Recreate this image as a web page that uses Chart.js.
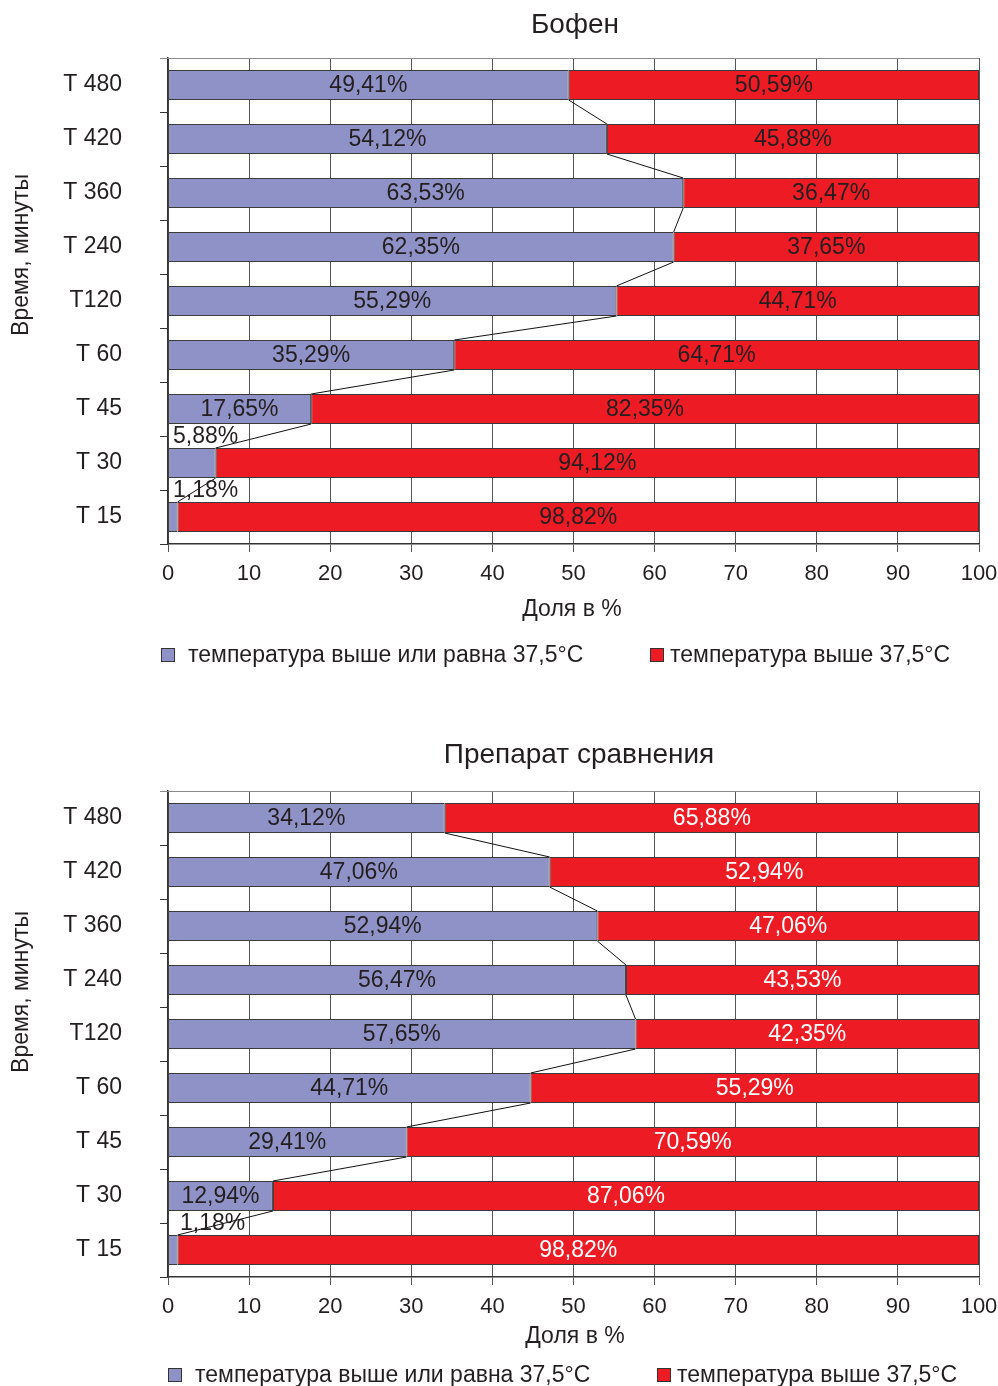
<!DOCTYPE html>
<html>
<head>
<meta charset="utf-8">
<script src="https://cdn.jsdelivr.net/npm/chart.js@4.4.1/dist/chart.umd.min.js"></script>
<style>
  html, body { margin: 0; padding: 0; background: #fff; }
  #wrap { position: relative; width: 998px; height: 1386px; }
  canvas { position: absolute; left: 0; }
  #chartTop { top: 0; }
  #chartBottom { top: 720px; }
</style>
</head>
<body>
<div id="wrap">
  <canvas id="chartTop" width="998" height="700"></canvas>
  <canvas id="chartBottom" width="998" height="666"></canvas>
</div>
<script>
// time points, top to bottom
const timeLabels = ['T 480', 'T 420', 'T 360', 'T 240', 'T120', 'T 60', 'T 45', 'T 30', 'T 15'];
const seriesNames = ['температура выше или равна 37,5°C', 'температура выше 37,5°C'];
const xTicks = [0, 10, 20, 30, 40, 50, 60, 70, 80, 90, 100];

// Бофен
const bofenLow  = [49.41, 54.12, 63.53, 62.35, 55.29, 35.29, 17.65, 5.88, 1.18];
const bofenHigh = [50.59, 45.88, 36.47, 37.65, 44.71, 64.71, 82.35, 94.12, 98.82];

// Препарат сравнения
const refLow  = [34.12, 47.06, 52.94, 56.47, 57.65, 44.71, 29.41, 12.94, 1.18];
const refHigh = [65.88, 52.94, 47.06, 43.53, 42.35, 55.29, 70.59, 87.06, 98.82];

const FONT = '"Liberation Sans", Arial, Helvetica, sans-serif';
const INK = '#231f20';
const BLUE = '#8f92c6';
const RED = '#ed1c24';

function pct(v) {
    return v.toFixed(2).replace('.', ',') + '%';
}

// titles, series lines, value labels and legend
const decor = {
    id: 'decor',
    afterDatasetsDraw: function(chart, args, o){
        const ctx = chart.ctx;
        const area = chart.chartArea;
        const xs = chart.scales.x;
        const low = chart.data.datasets[0].data;
        const high = chart.data.datasets[1].data;
        const m0 = chart.getDatasetMeta(0);
        const m1 = chart.getDatasetMeta(1);

        ctx.save();
        // top border of the plot
        ctx.strokeStyle = '#8a8a8a';
        ctx.lineWidth = 1;
        ctx.beginPath();
        ctx.moveTo(area.left - 8, area.top + 0.5);
        ctx.lineTo(area.right, area.top + 0.5);
        ctx.stroke();

        // series lines between the ends of the lower segments
        ctx.strokeStyle = '#111';
        ctx.lineWidth = 1;
        for (let i = 0; i < low.length - 1; i++) {
            const a = m0.data[i], b = m0.data[i + 1];
            ctx.beginPath();
            ctx.moveTo(xs.getPixelForValue(low[i]), a.y + a.height / 2);
            ctx.lineTo(xs.getPixelForValue(low[i + 1]), b.y - b.height / 2);
            ctx.stroke();
        }

        // value labels
        ctx.font = '23px ' + FONT;
        ctx.textBaseline = 'middle';
        for (let i = 0; i < low.length; i++) {
            const a = m0.data[i], b = m1.data[i];
            const x0 = xs.getPixelForValue(0);
            const x1 = xs.getPixelForValue(low[i]);
            const x2 = xs.getPixelForValue(low[i] + high[i]);
            if (low[i] < 10) {
                ctx.textAlign = 'left';
                ctx.fillStyle = INK;
                ctx.fillText(pct(low[i]), x0 + o.smallOffset, a.y - a.height / 2 - 11);
            } else {
                ctx.textAlign = 'center';
                ctx.fillStyle = INK;
                ctx.fillText(pct(low[i]), (x0 + x1) / 2, a.y + 1);
            }
            ctx.textAlign = 'center';
            ctx.fillStyle = o.highColor;
            ctx.fillText(pct(high[i]), (x1 + x2) / 2, b.y + 1);
        }
        ctx.restore();
    },
    afterDraw: function(chart, args, o){
        const ctx = chart.ctx;
        ctx.save();
        ctx.fillStyle = INK;
        ctx.textBaseline = 'middle';

        // chart title
        ctx.textAlign = 'center';
        ctx.font = '28px ' + FONT;
        ctx.fillText(o.title, o.titleX, o.titleY);

        // axis titles
        ctx.font = '23px ' + FONT;
        ctx.fillText('Доля в %', o.xTitleX, o.xTitleY);
        ctx.save();
        ctx.translate(22, o.yTitleY);
        ctx.rotate(-Math.PI / 2);
        ctx.fillText('Время, минуты', 0, 0);
        ctx.restore();

        // legend
        ctx.textAlign = 'left';
        chart.data.datasets.forEach(function(ds, k){
            const bx = o.legendBox[k], tx = o.legendText[k], y = o.legendY;
            ctx.fillStyle = ds.backgroundColor;
            ctx.fillRect(bx, y - 7, 14, 14);
            ctx.strokeStyle = '#333';
            ctx.lineWidth = 1;
            ctx.strokeRect(bx + 0.5, y - 6.5, 13, 13);
            ctx.fillStyle = INK;
            ctx.fillText(ds.label, tx, y + 1);
        });
        ctx.restore();
    }
};

function buildChart(id, low, high, deco, plotTop, plotBottom){
    const canvas = document.getElementById(id);
    return new Chart(canvas, {
        type: 'bar',
        data: {
            labels: timeLabels,
            datasets: [{
                label: seriesNames[0],
                data: low,
                backgroundColor: BLUE,
                borderColor: '#3a3a3a',
                borderWidth: 1,
                borderSkipped: false
            }, {
                label: seriesNames[1],
                data: high,
                backgroundColor: RED,
                borderColor: '#3a3a3a',
                borderWidth: 1,
                borderSkipped: false
            }]
        },
        options: {
            indexAxis: 'y',
            responsive: false,
            animation: false,
            devicePixelRatio: 1,
            layout: {
                padding: {left: 0, right: 19, top: plotTop, bottom: 0}
            },
            categoryPercentage: 1,
            barPercentage: 30 / 54,
            scales: {
                x: {
                    stacked: true,
                    min: 0,
                    max: 100,
                    afterBuildTicks: function(axis){
                        axis.ticks = xTicks.map(function(v){ return {value: v}; });
                    },
                    grid: {
                        color: '#555',
                        lineWidth: 1,
                        tickLength: 8
                    },
                    border: {color: '#333', width: 1.5},
                    ticks: {
                        color: INK,
                        font: {family: FONT, size: 22},
                        padding: 9,
                        maxRotation: 0
                    },
                    afterFit: function(axis){
                        axis.height = canvas.height - plotBottom;
                        axis.paddingLeft = 0;
                        axis.paddingRight = 0;
                    }
                },
                y: {
                    stacked: true,
                    grid: {
                        drawOnChartArea: false,
                        color: '#333',
                        tickLength: 8,
                        offset: true
                    },
                    border: {color: '#333', width: 1.5},
                    ticks: {
                        color: INK,
                        font: {family: FONT, size: 23},
                        padding: 38
                    },
                    afterFit: function(axis){
                        axis.width = 168;
                        axis.paddingTop = 0;
                        axis.paddingBottom = 0;
                    }
                }
            },
            plugins: {
                legend: {display: false},
                title: {display: false},
                tooltip: {enabled: false},
                decor: deco
            }
        },
        plugins: [decor]
    });
}

buildChart('chartTop', bofenLow, bofenHigh, {
    title: 'Бофен',
    titleX: 575, titleY: 25,
    xTitleX: 572, xTitleY: 610,
    yTitleY: 255,
    legendY: 655,
    legendBox: [161, 650],
    legendText: [188, 670],
    highColor: INK,
    smallOffset: 5
}, 58, 544);

buildChart('chartBottom', refLow, refHigh, {
    title: 'Препарат сравнения',
    titleX: 579, titleY: 35,
    xTitleX: 575, xTitleY: 617,
    yTitleY: 272,
    legendY: 655,
    legendBox: [168, 657],
    legendText: [195, 677],
    highColor: '#ffffff',
    smallOffset: 12
}, 71, 557);
</script>
</body>
</html>
